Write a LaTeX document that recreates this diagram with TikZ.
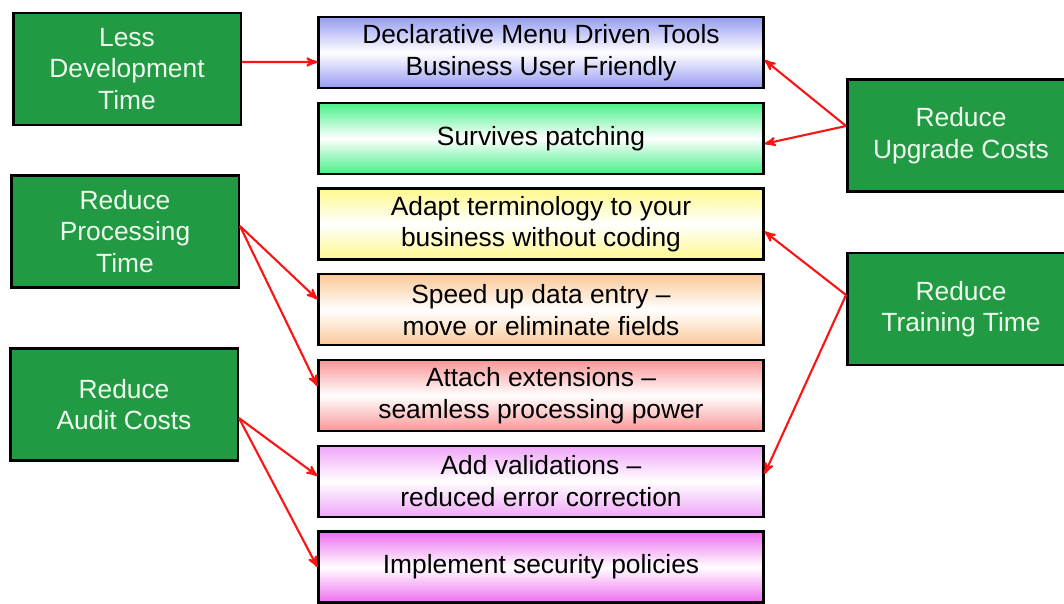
\documentclass[tikz,border=0pt]{standalone}
\usepackage{fontspec}
\setmainfont{Liberation Sans}
\usepackage{tikz}
\usetikzlibrary{arrows, positioning}

\definecolor{goalgreen}{RGB}{34,154,68}
\definecolor{goaltext}{RGB}{238,252,238}
\definecolor{linkred}{RGB}{250,20,20}
\definecolor{tintblue}{RGB}{150,155,242}
\definecolor{tintgreen}{RGB}{70,240,135}
\definecolor{tintyellow}{RGB}{255,248,140}
\definecolor{tintorange}{RGB}{250,200,150}
\definecolor{tintred}{RGB}{250,150,150}
\definecolor{tintpink}{RGB}{240,165,248}
\definecolor{tintmagenta}{RGB}{238,110,240}

\tikzset{tint/.style={top color=#1, bottom color=#1, middle color=white}}

\begin{document}
\begin{tikzpicture}[x=0.02cm,y=-0.02cm,>=stealth',node distance=0.25cm]
  \tikzstyle{goal} = [draw=black, line width=1.4pt, fill=goalgreen, text=goaltext,
                      minimum width=4.55cm, minimum height=2.24cm, align=center,
                      font=\fontsize{15}{18}\selectfont]
  \tikzstyle{feature} = [draw=black, line width=1.3pt, minimum width=8.9cm,
                         minimum height=1.42cm, inner sep=0pt, align=center,
                         font=\fontsize{15}{18}\selectfont]
  \tikzstyle{link} = [->, draw=linkred, line width=1.2pt]

  \useasboundingbox (0,0) rectangle (1064,603);

  % middle column
  \node [feature, tint=tintblue] (menu) at (541,52.5)
    {Declarative Menu Driven Tools\\Business User Friendly};
  \node [feature, tint=tintgreen, below=of menu] (patch) {Survives patching};
  \node [feature, tint=tintyellow, below=of patch] (terms)
    {Adapt terminology to your\\business without coding};
  \node [feature, tint=tintorange, below=of terms] (entry)
    {Speed up data entry --\\move or eliminate fields};
  \node [feature, tint=tintred, below=of entry] (ext)
    {Attach extensions --\\seamless processing power};
  \node [feature, tint=tintpink, below=of ext] (valid)
    {Add validations --\\reduced error correction};
  \node [feature, tint=tintmagenta, below=of valid] (secure)
    {Implement security policies};

  % benefits
  \node [goal] (devtime) at (127,69) {Less\\Development\\Time};
  \node [goal] (proctime) at (125,231.5) {Reduce\\Processing\\Time};
  \node [goal] (audit) at (124,404.5) {Reduce\\Audit Costs};
  \node [goal] (upgrade) at (961,135.5) {Reduce\\Upgrade Costs};
  \node [goal] (training) at (961,309) {Reduce\\Training Time};

  % links
  \draw [link] ([yshift=0.14cm]devtime.east) -- ([yshift=-0.19cm]menu.west);
  \draw [link] ([yshift=0.11cm]proctime.east) -- ([yshift=0.21cm]entry.west);
  \draw [link] ([yshift=0.11cm]proctime.east) -- ([yshift=0.19cm]ext.west);
  \draw [link] ([yshift=-0.27cm]audit.east) -- ([yshift=0.11cm]valid.west);
  \draw [link] ([yshift=-0.27cm]audit.east) -- (secure.west);
  \draw [link] ([yshift=0.19cm]upgrade.west) -- ([yshift=-0.15cm]menu.east);
  \draw [link] ([yshift=0.19cm]upgrade.west) -- ([yshift=-0.11cm]patch.east);
  \draw [link] ([yshift=0.28cm]training.west) -- ([yshift=-0.15cm]terms.east);
  \draw [link] ([yshift=0.28cm]training.west) -- ([yshift=0.15cm]valid.east);
\end{tikzpicture}
\end{document}
